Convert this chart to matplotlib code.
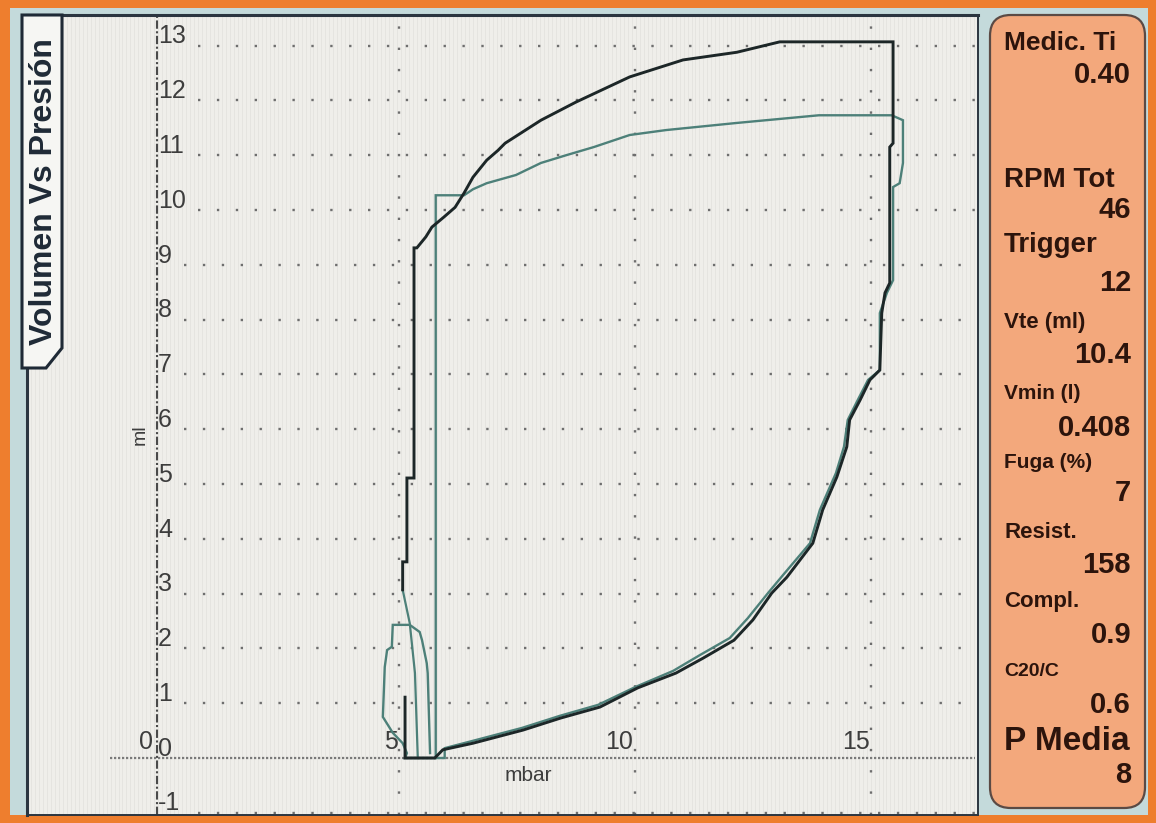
"""Ventilator screen capture: Volumen Vs Presión loop (two breaths).

Rebuilds the photographed pressure-volume loop with the side panel of
measured values.  Output: out.png (1156 x 823 px).
"""
import numpy as np
import matplotlib.pyplot as plt
from matplotlib.patches import Rectangle, Polygon, FancyBboxPatch

# ---- Loop 1 (dark trace): pressure (mbar) / volume (ml)
dark_p = [5.13, 5.13, 5.76, 5.93, 6.57, 7.63, 8.43, 9.26, 10.06, 10.87,
          11.44, 12.10, 12.50, 12.90, 13.22, 13.77, 13.98, 14.28, 14.49,
          14.55, 14.77, 14.98, 15.19, 15.23, 15.30, 15.40, 15.40, 15.47,
          15.47, 13.07, 12.16, 11.02, 9.89, 8.75, 8.01, 7.25, 7.10, 6.86,
          6.57, 6.38, 6.19, 5.95, 5.70, 5.57, 5.38, 5.32, 5.32, 5.17, 5.17,
          5.08, 5.08]
dark_v = [1.11, 0.0, 0.0, 0.15, 0.27, 0.51, 0.73, 0.93, 1.28, 1.55, 1.82,
          2.15, 2.52, 3.01, 3.30, 3.92, 4.53, 5.13, 5.68, 6.17, 6.53, 6.90,
          7.08, 8.12, 8.49, 8.67, 11.15, 11.22, 13.07, 13.07, 12.88, 12.74,
          12.43, 11.97, 11.64, 11.22, 11.09, 10.91, 10.60, 10.31, 10.05,
          9.87, 9.69, 9.51, 9.31, 9.31, 5.11, 5.11, 3.58, 3.58, 3.07]

# ---- Loop 2 (teal trace)
teal_p = [5.78, 5.78, 6.38, 6.57, 6.86, 7.48, 8.01, 8.54, 9.13, 9.89,
          10.66, 12.16, 13.90, 15.44, 15.68, 15.68, 15.61, 15.47, 15.47,
          15.34, 15.19, 15.19, 14.94, 14.72, 14.51, 14.43, 14.26, 13.92,
          13.71, 13.14, 12.82, 12.39, 12.01, 11.38, 10.81, 10.02, 9.22,
          8.41, 7.61, 6.55, 5.97, 5.97, 5.13, 5.17, 5.08, 4.87, 4.66, 4.70,
          4.75, 4.85, 4.87, 5.23, 5.44, 5.49, 5.59, 5.61, 5.66]
teal_v = [0.0, 10.27, 10.27, 10.38, 10.49, 10.64, 10.86, 11.00, 11.15,
          11.37, 11.46, 11.59, 11.73, 11.73, 11.64, 10.86, 10.49, 10.42,
          8.72, 8.49, 8.12, 7.08, 6.90, 6.53, 6.17, 5.68, 5.20, 4.53, 3.92,
          3.34, 3.01, 2.55, 2.19, 1.88, 1.59, 1.30, 0.97, 0.77, 0.55, 0.31,
          0.18, 0.0, 0.0, 0.09, 0.27, 0.46, 0.75, 1.66, 1.97, 2.03, 2.43,
          2.43, 2.30, 2.15, 1.73, 1.55, 0.09]
teal_tail_p = [5.08, 5.23, 5.34, 5.40]
teal_tail_v = [3.07, 2.46, 1.55, 0.0]

# ---- Axis ticks
y_ticks = [13, 12, 11, 10, 9, 8, 7, 6, 5, 4, 3, 2, 1, 0, -1]
x_ticks = [0, 5, 10, 15]

# ---- Side panel readings (label, value)
panel_labels = ["Medic. Ti", "RPM Tot", "Trigger", "Vte (ml)", "Vmin (l)",
                "Fuga (%)", "Resist.", "Compl.", "C20/C", "P Media"]
panel_values = ["0.40", "46", "12", "10.4", "0.408", "7", "158", "0.9",
                "0.6", "8"]
label_rows = [43, 180, 245, 323, 393, 463, 533, 602, 672, 742]   # px
value_rows = [75, 210, 283, 355, 428, 493, 565, 635, 705, 775]   # px
label_sizes = [19, 20, 20, 16, 15, 15, 16, 16, 14, 24]

W, H = 1156, 823
ORANGE = "#ee7e2e"
PANEL = "#f3a87c"
SKY = "#c4dadb"
SCREEN = "#efeeea"
DARK = "#1c2627"
TEAL = "#4d8079"
INK = "#3d3d3d"
FONT = ["Liberation Sans", "DejaVu Sans"]


def fx(px):
    return px / W


def fy(py):
    return 1 - py / H


def main() -> None:
    plt.rcParams["font.family"] = FONT
    fig = plt.figure(figsize=(W / 100, H / 100), dpi=100, facecolor=ORANGE)

    # monitor backdrop inside the orange frame
    fig.add_artist(Rectangle((fx(10), fy(815)), fx(1138), 807 / H,
                             transform=fig.transFigure, facecolor=SKY,
                             edgecolor="none", zorder=0))

    # ----------------------------------------------------------------
    # Plot screen
    # ----------------------------------------------------------------
    ax = fig.add_axes([fx(27), fy(815), fx(978 - 27), (815 - 15) / H])
    ax.set_facecolor(SCREEN)
    ax.set_xlim(-2.88, 17.27)
    ax.set_ylim(-1.04, 13.56)
    ax.set_xticks([])
    ax.set_yticks([])
    for side, sp in ax.spines.items():
        sp.set_color("#2b3540")
        sp.set_linewidth(2.2 if side in ("left", "top") else 1.4)

    # faint scanline texture of the photographed LCD
    ax.vlines(np.linspace(-2.88, 17.27, 240), -1.04, 13.56,
              color="#e2e1dc", lw=0.5, zorder=0)

    # dotted grid rows and columns
    for v in y_ticks:
        if v == 0:
            continue
        start = 0.75 if len(str(v)) > 1 else 0.45
        ax.plot([start, 17.2], [v, v], color="#6e6e6e", lw=1.7,
                linestyle=(0, (1, 7)), zorder=1)
    for p in x_ticks[1:]:
        ax.plot([p, p], [-1.04, 13.56], color="#6e6e6e", lw=1.7,
                linestyle=(0, (1, 8)), zorder=1)

    # axis lines: dense dotted x axis, dash-dot y axis
    ax.plot([-1.12, 17.2], [0, 0], color="#7a7a7a", lw=1.6,
            linestyle=(0, (1, 0.8)), zorder=1)
    ax.plot([-0.12, -0.12], [-1.04, 13.56], color="#4a4a4a", lw=1.5,
            linestyle=(0, (4, 1.2, 1, 1.2)), zorder=1)

    # tick labels sit just above / left of their grid line
    for v in y_ticks:
        ax.text(-0.1, v + 0.17, str(v), ha="left", va="center",
                fontsize=18, color=INK, zorder=3)
    for p in x_ticks:
        ax.text(p - 0.03 if p else -0.2, 0.30, str(p), ha="right",
                va="center", fontsize=18, color=INK, zorder=3)

    ax.text(-0.48, 5.9, "ml", rotation=90, ha="center", va="center",
            fontsize=14, color=INK)
    ax.text(7.75, -0.32, "mbar", ha="center", va="center",
            fontsize=15, color=INK)

    # ---- the two pressure-volume loops
    ax.plot(teal_tail_p, teal_tail_v, color=TEAL, lw=1.6, zorder=4)
    ax.plot(teal_p, teal_v, color=TEAL, lw=1.7, zorder=4,
            solid_joinstyle="miter")
    ax.plot(dark_p, dark_v, color=DARK, lw=2.1, zorder=5,
            solid_joinstyle="miter")

    # ---- title tab on the left edge
    tab = [(22, 15), (62, 15), (62, 348), (46, 368), (22, 368)]
    fig.add_artist(Polygon([(fx(a), fy(b)) for a, b in tab], closed=True,
                           transform=fig.transFigure, facecolor="#f6f6f3",
                           edgecolor="#1f2a36", lw=2.2, zorder=6))
    fig.text(fx(44), fy(192), "Volumen Vs Presión", rotation=90,
             ha="center", va="center", fontsize=23, fontweight="bold",
             color="#1f2a36", zorder=7)

    # ----------------------------------------------------------------
    # Side panel with readings
    # ----------------------------------------------------------------
    box = FancyBboxPatch((fx(990), fy(808)), fx(1145 - 990), 793 / H,
                         boxstyle="round,pad=0,rounding_size=0.018",
                         mutation_aspect=W / H,
                         transform=fig.transFigure, facecolor=PANEL,
                         edgecolor="#5b4a44", lw=1.6, zorder=2)
    fig.add_artist(box)
    for lab, val, ly, vy, ls in zip(panel_labels, panel_values, label_rows,
                                    value_rows, label_sizes):
        fig.text(fx(1004), fy(ly), lab, ha="left", va="center",
                 fontsize=ls, fontweight="bold", color="#2c140c", zorder=3)
        fig.text(fx(1131), fy(vy), val, ha="right", va="center",
                 fontsize=21, fontweight="bold", color="#2c140c", zorder=3)

    fig.savefig("out.png", dpi=100, facecolor=ORANGE)
    plt.close(fig)


if __name__ == "__main__":
    main()
